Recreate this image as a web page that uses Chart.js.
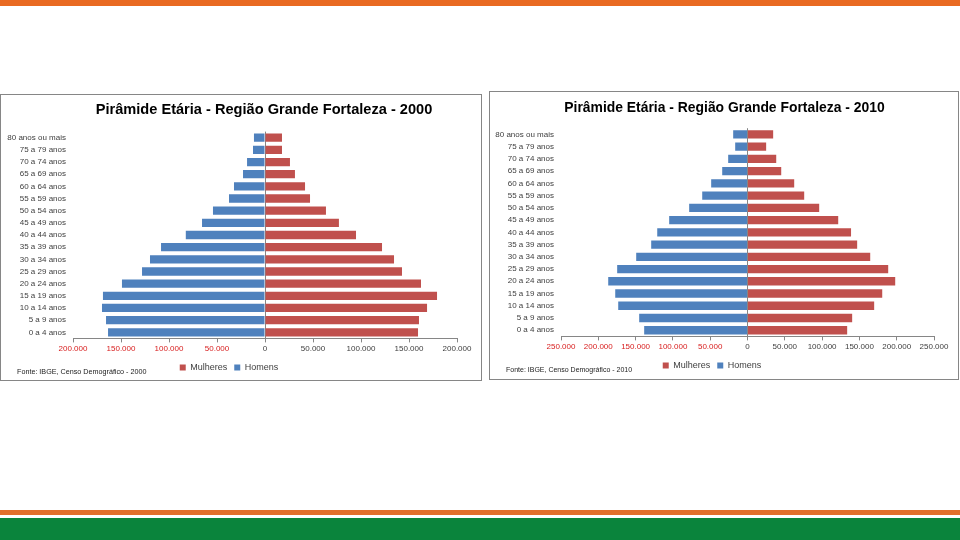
<!DOCTYPE html>
<html lang="pt-BR">
<head>
<meta charset="utf-8">
<title>Pirâmide Etária - Região Grande Fortaleza</title>
<script src="https://cdn.jsdelivr.net/npm/chart.js@4.4.1/dist/chart.umd.min.js"></script>
<style>
  html, body { margin: 0; padding: 0; background: #fff; }
  body { position: relative; width: 960px; height: 540px; overflow: hidden; font-family: "Liberation Sans", Arial, sans-serif; }
  .faixa-topo { position: absolute; left: 0; top: 0; width: 960px; height: 6px; background: #e96a22; }
  .faixa-laranja { position: absolute; left: 0; top: 510px; width: 960px; height: 5px; background: #e2702d; }
  .faixa-verde { position: absolute; left: 0; top: 518px; width: 960px; height: 22px; background: #0a843c; }
  .grafico { position: absolute; }
  .grafico canvas { display: block; }
  .moldura { position: absolute; border: 1px solid #868686; pointer-events: none; }
  .titulo { position: absolute; text-align: center; font-weight: bold; color: #000; line-height: 16px; white-space: nowrap; }
  .fonte { position: absolute; color: #222; line-height: 9px; white-space: nowrap; }
</style>
</head>
<body>
<div class="faixa-topo"></div>

<div class="grafico" style="left:1px;top:95px;width:480px;height:287px;">
  <canvas id="piramide2000"></canvas>
</div>
<div class="moldura" style="left:0;top:94px;width:480px;height:285px;"></div>
<div class="titulo" style="left:0;top:101px;width:528px;font-size:14.6px;">Pirâmide Etária - Região Grande Fortaleza - 2000</div>
<div class="fonte" style="left:17px;top:367px;font-size:7.2px;">Fonte: IBGE, Censo Demográfico - 2000</div>

<div class="grafico" style="left:490px;top:92px;width:468px;height:288px;">
  <canvas id="piramide2010"></canvas>
</div>
<div class="moldura" style="left:489px;top:91px;width:468px;height:287px;"></div>
<div class="titulo" style="left:489px;top:99px;width:471px;font-size:13.9px;">Pirâmide Etária - Região Grande Fortaleza - 2010</div>
<div class="fonte" style="left:506px;top:365px;font-size:7px;">Fonte: IBGE, Censo Demográfico - 2010</div>

<div class="faixa-laranja"></div>
<div class="faixa-verde"></div>

<script>
// piramide.js

const faixas = [
  "80 anos ou mais", "75 a 79 anos", "70 a 74 anos", "65 a 69 anos",
  "60 a 64 anos", "55 a 59 anos", "50 a 54 anos", "45 a 49 anos",
  "40 a 44 anos", "35 a 39 anos", "30 a 34 anos", "25 a 29 anos",
  "20 a 24 anos", "15 a 19 anos", "10 a 14 anos", "5 a 9 anos", "0 a 4 anos"
];

const homens2000 = [11500, 12500, 18700, 22900, 32300, 37500, 54200, 65600, 82500, 108300, 119800, 128100, 149000, 168800, 169800, 165600, 163500];
const mulheres2000 = [17700, 17700, 26000, 31200, 41700, 46900, 63500, 77000, 94800, 121900, 134400, 142700, 162500, 179200, 168800, 160400, 159400];

const homens2010 = [19200, 16500, 25900, 33900, 48700, 60700, 78200, 105000, 121000, 129100, 149200, 174700, 186700, 177300, 173300, 145200, 138500];
const mulheres2010 = [34400, 25000, 38500, 45200, 62600, 76000, 96100, 121600, 138800, 147000, 164500, 188600, 198000, 180600, 169800, 140300, 133600];

const limite2000 = 200000;
const limite2010 = 250000;
const passo = 50000;

const AZUL = "#4f81bd";
const VERMELHO = "#c0504d";
const CINZA = "#868686";
const TEXTO = "#404040";
const NEGATIVO = "#d82020";

Chart.defaults.font.family = "'Liberation Sans', Arial, sans-serif";
Chart.defaults.animation = false;

function formatar(v) {
  return String(Math.abs(v)).replace(/\B(?=(\d{3})+(?!\d))/g, ".");
}

//
// ===== PIRÂMIDE =====
//

function criarPiramide(canvasId, homens, mulheres, limite, larguraEixo, topo) {
  const ctx = document.getElementById(canvasId);

  return new Chart(ctx, {
    type: "bar",
    data: {
      labels: faixas,
      datasets: [
        {
          label: "Mulheres",
          data: mulheres,
          backgroundColor: VERMELHO,
          barPercentage: 0.68,
          categoryPercentage: 1
        },
        {
          label: "Homens",
          data: homens.map(v => -v),
          backgroundColor: AZUL,
          barPercentage: 0.68,
          categoryPercentage: 1
        }
      ]
    },
    options: {
      indexAxis: "y",
      responsive: true,
      maintainAspectRatio: false,
      layout: {
        padding: { top: topo, right: 24, bottom: 0, left: 0 }
      },
      scales: {
        x: {
          stacked: true,
          min: -limite,
          max: limite,
          border: { display: true, color: CINZA, width: 1 },
          grid: {
            color: c => (c.tick && c.tick.value === 0 ? CINZA : "transparent"),
            tickColor: CINZA,
            tickLength: 4,
            lineWidth: 1
          },
          ticks: {
            stepSize: passo,
            padding: 2,
            maxRotation: 0,
            autoSkip: false,
            font: { size: 8 },
            color: c => (c.tick && c.tick.value < 0 ? NEGATIVO : TEXTO),
            callback: v => formatar(v)
          }
        },
        y: {
          stacked: true,
          border: { display: false },
          grid: { display: false, drawTicks: false },
          ticks: {
            padding: 7,
            autoSkip: false,
            font: { size: 8 },
            color: TEXTO
          },
          afterFit: scale => { scale.width = larguraEixo; }
        }
      },
      plugins: {
        legend: {
          position: "bottom",
          labels: {
            boxWidth: 6,
            boxHeight: 6,
            padding: 7,
            color: TEXTO,
            font: { size: 9 }
          }
        },
        tooltip: { enabled: false }
      }
    }
  });
}

criarPiramide("piramide2000", homens2000, mulheres2000, limite2000, 72, 36.6);
criarPiramide("piramide2010", homens2010, mulheres2010, limite2010, 71, 36.2);
</script>
</body>
</html>
